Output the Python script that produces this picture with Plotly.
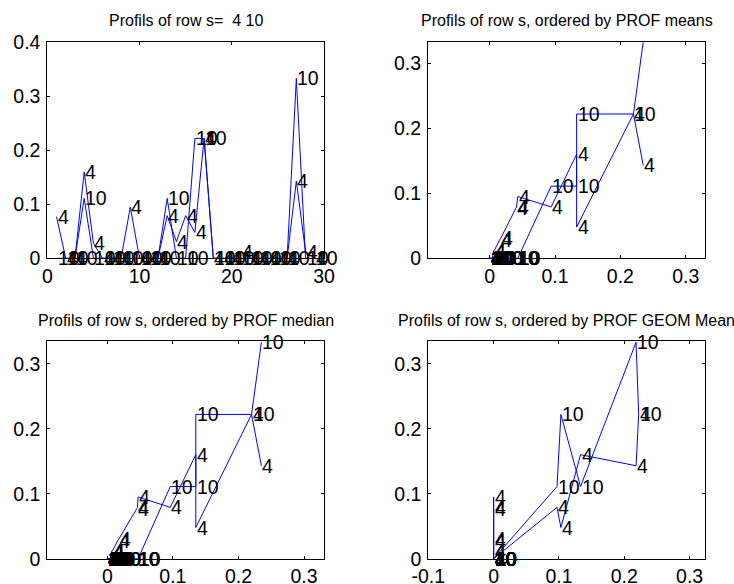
import numpy as np
import plotly.graph_objects as go

# ---------------- data ----------------
columns = list(range(1, 30))
row_labels = ["4", "10"]
row4 = [0.077, 0, 0, 0.160, 0.028, 0, 0, 0, 0.095, 0, 0, 0, 0.079, 0.031, 0.079,
        0.048, 0.222, 0, 0, 0, 0.012, 0, 0, 0, 0, 0, 0.143, 0.012, 0]
row10 = [0, 0, 0, 0.111, 0, 0, 0, 0, 0, 0, 0, 0, 0.111, 0, 0,
         0.222, 0.222, 0, 0, 0, 0, 0, 0, 0, 0, 0, 0.333, 0, 0]
prof_mean = [0.040, 0.0, 0.002, 0.133, 0.015, 0.0, 0.003, 0.0, 0.043, 0.001, 0.0, 0.004,
             0.094, 0.017, 0.041, 0.133, 0.220, 0.0, 0.002, 0.0, 0.006, 0.003, 0.0, 0.004,
             0.001, 0.0, 0.235, 0.007, 0.0]
prof_median = [0.045, 0.0, 0.002, 0.135, 0.016, 0.0, 0.003, 0.0, 0.047, 0.001, 0.0, 0.004,
               0.096, 0.018, 0.046, 0.135, 0.220, 0.0, 0.002, 0.0, 0.007, 0.003, 0.0, 0.004,
               0.001, 0.0, 0.235, 0.008, 0.0]
prof_geom = [0, 0, 0, 0.133, 0, 0, 0, 0, 0, 0, 0, 0, 0.097, 0, 0,
             0.103, 0.222, 0, 0, 0, 0, 0, 0, 0, 0, 0, 0.218, 0, 0]

titles = ["Profils of row s=  4 10",
          "Profils of row s, ordered by PROF means",
          "Profils of row s, ordered by PROF median",
          "Profils of row s, ordered by PROF GEOM Mean"]

x_ticks_1 = [0, 10, 20, 30]
x_ticks_1_text = ["0", "10", "20", "30"]
y_ticks_1 = [0, 0.1, 0.2, 0.3, 0.4]
y_ticks_1_text = ["0", "0.1", "0.2", "0.3", "0.4"]
x_ticks_p = [0, 0.1, 0.2, 0.3]
x_ticks_p_text = ["0", "0.1", "0.2", "0.3"]
x_ticks_4 = [-0.1, 0, 0.1, 0.2, 0.3]
x_ticks_4_text = ["-0.1", "0", "0.1", "0.2", "0.3"]
y_ticks_p = [0, 0.1, 0.2, 0.3]
y_ticks_p_text = ["0", "0.1", "0.2", "0.3"]

# ---------------- layout geometry ----------------
W, H = 734, 584
FONT = "Liberation Sans, Arial, Helvetica, sans-serif"
TICK_SIZE = 19.5
LABEL_SIZE = 19.5
TITLE_SIZE = 16.0
BLUE = "#0000ff"

def xdom(l, r):
    return [l / W, r / W]

def ydom(t, b):
    return [1 - b / H, 1 - t / H]

def ypaper(py):
    return 1 - py / H

panels = [
    dict(xd=xdom(47.3, 324), yd=ydom(42.3, 258.3), xr=[0, 30], yr=[0, 0.4],
         xt=(x_ticks_1, x_ticks_1_text), yt=(y_ticks_1, y_ticks_1_text), ty=20),
    dict(xd=xdom(428, 705.3), yd=ydom(42.3, 258.3), xr=[-0.0945, 0.33], yr=[0, 0.3323],
         xt=(x_ticks_p, x_ticks_p_text), yt=(y_ticks_p, y_ticks_p_text), ty=20),
    dict(xd=xdom(47.3, 324), yd=ydom(340.7, 558.7), xr=[-0.0915, 0.3305], yr=[0, 0.3354],
         xt=(x_ticks_p, x_ticks_p_text), yt=(y_ticks_p, y_ticks_p_text), ty=320),
    dict(xd=xdom(428.3, 705.3), yd=ydom(340.7, 558.7), xr=[-0.1, 0.324], yr=[0, 0.3354],
         xt=(x_ticks_4, x_ticks_4_text), yt=(y_ticks_p, y_ticks_p_text), ty=320),
]

fig = go.Figure()
annotations = []

rows = [np.array(row4), np.array(row10)]
orderings = [None, np.array(prof_mean), np.array(prof_median), np.array(prof_geom)]

for k, p in enumerate(panels):
    sfx = "" if k == 0 else str(k + 1)
    xa, ya = "x" + sfx, "y" + sfx
    if orderings[k] is None:
        xs_list = [np.array(columns, dtype=float)] * 2
        ys_list = rows
    else:
        idx = np.argsort(orderings[k], kind="stable")
        xs_list = [orderings[k][idx]] * 2
        ys_list = [r[idx] for r in rows]
    for xs, ys in zip(xs_list, ys_list):
        fig.add_trace(go.Scatter(x=xs, y=ys, mode="lines", xaxis=xa, yaxis=ya,
                                 line=dict(color=BLUE, width=1), showlegend=False,
                                 hoverinfo="skip"))
    for xs, ys, lab in zip(xs_list, ys_list, row_labels):
        for xv, yv in zip(xs, ys):
            annotations.append(dict(x=xv, y=yv, xref=xa, yref=ya, text=lab,
                                    showarrow=False, xanchor="left", yanchor="middle",
                                    xshift=0, yshift=0, borderpad=0,
                                    font=dict(family=FONT, size=LABEL_SIZE, color="#000")))
    axis_common = dict(showline=True, linecolor="#000", linewidth=1, mirror="ticks",
                       ticks="inside", ticklen=3, tickcolor="#000", tickwidth=1,
                       showgrid=False, zeroline=False, automargin=False,
                       tickfont=dict(family=FONT, size=TICK_SIZE, color="#000"))
    fig.layout["xaxis" + sfx] = dict(domain=p["xd"], range=p["xr"], anchor=ya,
                                     tickvals=p["xt"][0], ticktext=p["xt"][1],
                                     ticklabelstandoff=0, **axis_common)
    fig.layout["yaxis" + sfx] = dict(domain=p["yd"], range=p["yr"], anchor=xa,
                                     tickvals=p["yt"][0], ticktext=p["yt"][1],
                                     ticklabelstandoff=2, **axis_common)
    cx = (p["xd"][0] + p["xd"][1]) / 2
    annotations.append(dict(x=cx, y=ypaper(p["ty"]), xref="paper", yref="paper",
                            text=titles[k], showarrow=False, xanchor="center",
                            yanchor="middle",
                            font=dict(family=FONT, size=TITLE_SIZE, color="#000")))

fig.update_layout(width=W, height=H,
                  margin=dict(l=0, r=0, t=0, b=0, pad=0, autoexpand=False),
                  paper_bgcolor="white", plot_bgcolor="white",
                  annotations=annotations, showlegend=False)

# remove the browser's default page margin so the 734x584 figure fills the window
fig.write_html("out.html", config={"displayModeBar": False},
               post_script="document.body.style.margin='0px';")
